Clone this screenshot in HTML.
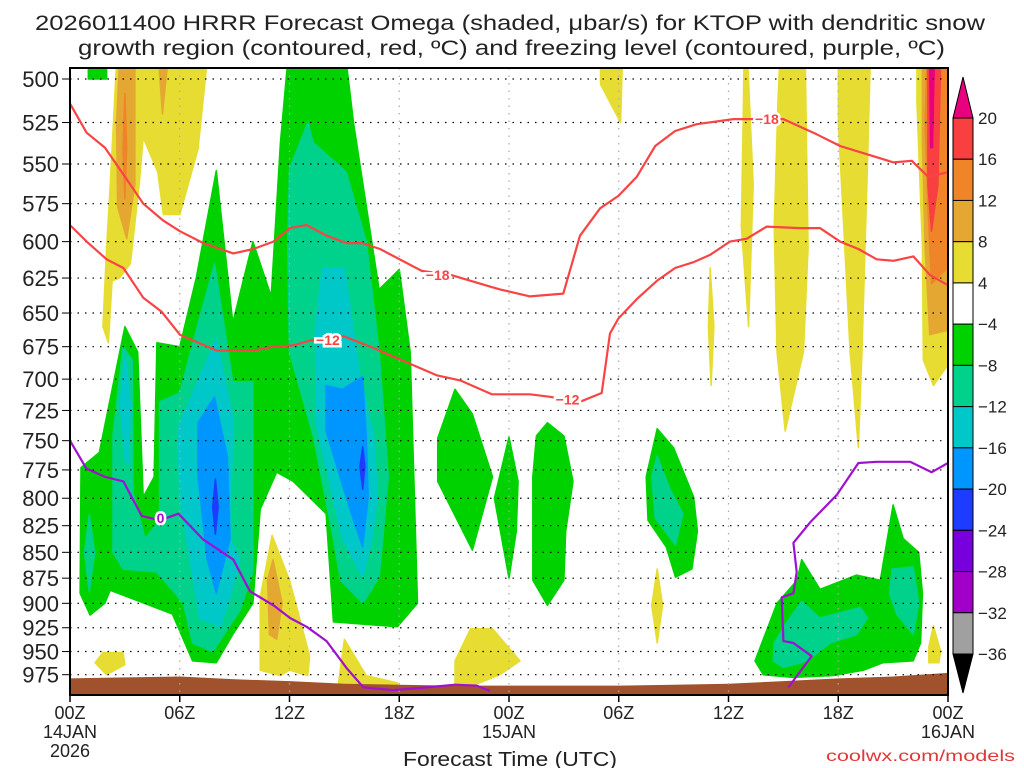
<!DOCTYPE html>
<html><head><meta charset="utf-8"><style>
html,body{margin:0;padding:0;background:#fff;}
svg{display:block;font-family:"Liberation Sans",sans-serif;}
</style></head><body>
<svg id="chart" width="1024" height="768" viewBox="0 0 1024 768" xmlns="http://www.w3.org/2000/svg">
<defs><clipPath id="plotclip"><rect x="70" y="68" width="878" height="627"/></clipPath></defs>
<text x="35" y="30" font-size="21" fill="#222" textLength="950" lengthAdjust="spacingAndGlyphs">2026011400 HRRR Forecast Omega (shaded, μbar/s) for KTOP with dendritic snow</text>
<text x="78" y="55" font-size="21" fill="#222" textLength="867" lengthAdjust="spacingAndGlyphs">growth region (contoured, red, ºC) and freezing level (contoured, purple, ºC)</text>
<g id="fills" clip-path="url(#plotclip)"></g>
<g id="grid"></g>
<g id="lines" clip-path="url(#plotclip)"></g>
<g id="axes"></g>
<g id="cbar"></g>
<text x="403" y="766" font-size="20" fill="#222" textLength="214" lengthAdjust="spacingAndGlyphs">Forecast Time (UTC)</text>
<text x="826" y="761" font-size="16" fill="#e03838" textLength="189" lengthAdjust="spacingAndGlyphs">coolwx.com/models</text>
</svg>
<script>
// ---- data (hour, pressure hPa) ----
const yTicks=[500,525,550,575,600,625,650,675,700,725,750,775,800,825,850,875,900,925,950,975];
const xTickHours=[0,6,12,18,24,30,36,42,48];
const xTickLabels=["00Z","06Z","12Z","18Z","00Z","06Z","12Z","18Z","00Z"];
const cbarLevels=[20,16,12,8,4,-4,-8,-12,-16,-20,-24,-28,-32,-36];
const cbarColors=["#f84040","#f08428","#e4a832","#e6dc32","#ffffff","#00d200","#00d28c","#00c8c8","#0096ff","#1e3cff","#7800dc","#a000c8","#a0a0a0"];
const terrainHours=[0,3,6,9,12,15,18,21,24,27,30,33,36,39,42,45,48];
const terrainPres=[979,978,977,980,982,985,986,987,987,987,987,986,985,982,979,977,973];
// -18 C contour
const iso18Hours=[0,0.91,1.91,3.01,4.01,5.1,6.01,7.29,8.93,10.02,11.12,12.03,12.94,14.03,15.13,15.95,16.95,19.23,20.87,22.96,23.51,25.15,26.97,27.88,28.98,29.98,30.98,31.99,33.08,34.26,36.27,37.18,39.0,40.82,42.1,43.56,45.02,46.02,46.93,48.0];
const iso18Pres=[514,531,540,558,575,586,593,601,608,605,600,591,589,596,601,601,605,620,623,631,633,638,636,596,578,570,558,539,530,526,523,523,523,532,539,544,549,548,558,555];
// -12 C contour
const iso12Hours=[0,1,2,2.92,4.01,5.01,6.01,8.02,10.02,11.12,12.21,13.21,14.94,16.59,18.41,20.05,21.33,23.06,25.15,26.24,27.88,29.07,29.52,29.98,30.98,32.08,33.08,34.08,34.99,36.08,37.0,38.09,39.91,41.0,42.1,43.1,44.1,45.02,46.11,47.02,48.0];
const iso12Pres=[589,601,612,618,639,649,666,678,678,675,674,670,667,676,687,697,701,712,712,714,718,711,665,654,640,627,618,614,609,600,598,590,591,591,600,605,612,613,610,623,630];
// freezing level (0 C)
const frzAHours=[0,0.91,1.91,2.92,3.92,4.92,5.93,7.29,8.93,9.84,11.12,12.03,12.94,14.03,15.13,16.04,17.68,19.5,21.05,22.23,22.96];
const frzAPres=[750,774,781,785,816,820,814,838,857,888,902,915,924,939,968,989,992,989,986,987,993];
const frzBHours=[39.27,40.55,39.55,39.0,38.91,39.55,39.73,39.55,40.46,41.92,43.1,44.1,45.93,47.11,48.0];
const frzBPres=[989,955,941,939,894,890,869,841,822,797,769,768,768,777,769];
// shaded regions: [hour, pressure]
const greenMain=[[0.55,890],[0.6,773],[1.6,760],[3.0,660],[3.7,679],[4.0,799],[4.6,781],[4.75,672],[6.0,675],[6.9,625],[8.0,554],[8.9,657],[10.0,600],[11.0,638],[11.5,537],[11.9,490],[15.1,490],[15.5,525],[16.9,633],[18.0,619],[18.6,679],[19.0,900],[17.9,924],[14.4,919],[14.0,814],[12.2,785],[11.3,777],[10.4,810],[10.0,900],[8.9,932],[8.0,962],[6.7,960],[5.6,911],[2.2,887],[1.9,900],[1.1,912]];
const greenTopLeft=[[1.0,490],[2.0,490],[2.0,500],[1.0,500]];
const greenB=[[21.05,708],[22.0,728],[23.1,781],[22.0,848],[20.1,785],[20.1,748]];
const greenC=[[24.0,747],[24.5,785],[24.4,830],[24.0,875],[23.2,800]];
const greenD=[[26.1,735],[27.0,746],[27.5,785],[27.1,830],[27.0,877],[26.1,902],[25.3,877],[25.3,781],[25.5,746]];
const greenE=[[32.1,740],[33.0,756],[34.1,799],[34.3,830],[34.0,866],[33.1,874],[32.6,845],[31.6,820],[31.5,781]];
const greenF=[[37.45,960],[38.65,900],[39.75,877],[40.0,857],[41.0,886],[43.0,872],[44.3,877],[45.0,806],[45.55,837],[46.4,850],[46.6,890],[46.5,941],[46.1,960],[44.45,962],[43.4,970],[41.7,976],[39.5,978],[37.9,975]];
const tealA=[[2.9,675],[3.4,685],[3.45,795],[4.1,837],[4.9,820],[4.9,718],[6.0,711],[6.9,663],[7.9,615],[8.9,702],[10,702],[10,869],[9.3,907],[7.8,950],[6.7,941],[6.2,900],[4.75,869],[2.9,866],[2.35,850],[2.35,746]];
const tealB=[[1.05,815],[1.35,850],[1.05,888],[0.8,850]];
const tealC=[[12.0,553],[13.0,525],[13.3,537],[15.1,555],[16.2,600],[16.9,679],[17.4,781],[17.1,837],[16.9,874],[16.0,900],[14.8,877],[14.4,837],[13.3,746],[12.0,679],[11.9,604]];
const tealD=[[32.1,763],[32.8,792],[33.5,814],[33.1,843],[32.0,818],[31.8,781]];
const tealE=[[38.5,941],[39.2,919],[40.0,898],[41.0,915],[43.2,904],[43.6,915],[43.0,932],[41.55,941],[40.3,960],[39.0,967],[38.45,960]];
const tealF=[[44.95,866],[46.1,864],[46.4,900],[46.1,932],[45.2,911],[44.8,890]];
const cyanA=[[3.0,680],[3.3,720],[3.2,770],[3.0,765],[2.75,720]];
const cyanB=[[8.0,669],[8.9,731],[8.75,837],[9.3,857],[8.75,894],[8.2,924],[7.1,915],[6.0,799],[5.9,739],[6.9,705]];
const cyanC=[[13.8,618],[15.0,618],[15.9,702],[16.6,746],[16.8,799],[16.5,837],[16.0,874],[14.9,837],[13.5,739],[13.4,663]];
const lblueA=[[7.0,735],[7.9,714],[8.6,763],[8.75,837],[8.0,890],[7.5,857],[7.0,781]];
const lblueB=[[14.0,705],[14.9,708],[16.0,698],[16.2,746],[16.3,799],[16.0,845],[15.3,810],[14.0,742]];
const blueA=[[7.95,783],[8.1,808],[7.95,833],[7.8,808]];
const blueB=[[16.0,755],[16.12,772],[16.0,792],[15.85,772]];
const yelA=[[2.55,490],[7.5,490],[7.0,541],[6.0,582],[5.1,582],[4.8,555],[4.0,534],[3.8,561],[3.3,615],[2.7,625],[2.3,627],[2.1,672],[1.8,660],[2.0,604],[2.2,563]];
const yelB=[[1.37,962],[1.8,951],[2.9,951],[3.0,964],[2.0,975]];
const yelC=[[11.05,834],[12.0,877],[12.5,911],[13.1,955],[13.0,976],[12.0,970],[11.5,976],[10.4,970],[10.4,894]];
const yelD=[[15.0,937],[16.2,976],[17.9,984],[18,995],[14.6,995]];
const yelE=[[21.05,960],[21.9,926],[23.1,926],[24.6,960],[23.5,975],[21.05,995]];
const yelF=[[29.0,490],[30.2,490],[30.1,525],[29.0,503]];
const yelG=[[35.0,618],[35.2,660],[35.05,705],[34.9,660]];
const yelH=[[36.85,490],[37.05,490],[37.35,563],[37.1,660],[36.7,590],[36.8,525]];
const yelI=[[38.8,490],[40.2,490],[40.35,604],[40.1,679],[39.1,742],[38.65,679],[38.5,590],[38.7,513]];
const yelJ=[[42.0,490],[43.75,490],[43.6,550],[43.3,679],[43.1,756],[42.65,679],[42.3,590],[42.0,525]];
const yelK=[[46.3,490],[48.2,490],[48.2,685],[47.2,705],[46.65,685],[46.6,604],[46.3,513]];
const yelL=[[32.1,866],[32.4,902],[32.1,941],[31.8,902]];
const yelM=[[47.2,923],[47.6,950],[47.5,962],[46.95,962],[46.95,945]];
const ochA=[[2.7,490],[3.55,490],[3.55,563],[3.1,598],[2.6,577],[2.55,525]];
const ochB=[[4.85,490],[5.35,490],[5.05,520]];
const ochC=[[11.1,857],[11.6,900],[11.3,937],[10.9,932],[10.8,877]];
const ochD=[[46.6,490],[48.2,490],[48.2,662],[47.0,666],[46.75,604],[46.6,537]];
const orA=[[3.0,508],[3.1,540],[3.0,572],[2.9,540]];
const orB=[[46.85,490],[48.2,490],[48.2,615],[47.1,629],[46.9,577],[46.75,525]];
const redA=[[46.9,490],[47.6,490],[47.45,563],[47.1,593],[46.9,563]];
const magA=[[47.0,490],[47.25,490],[47.15,540],[47.05,540]];

// ---- axis functions ----
const X=h=>70+h*(878/48);
const Y=p=>79+892*Math.log(p/500);
const NS="http://www.w3.org/2000/svg";
function mk(tag,parent){const e=document.createElementNS(NS,tag);parent.appendChild(e);return e;}
const fills=document.getElementById('fills');
function poly(pts,color,name){
  const e=mk('polygon',fills);
  e.setAttribute('points',pts.map(q=>X(q[0]).toFixed(1)+','+Y(q[1]).toFixed(1)).join(' '));
  e.setAttribute('fill',color);
  e.setAttribute('stroke',color);e.setAttribute('stroke-width','1.5');e.setAttribute('stroke-linejoin','round');
  
  
}
const YEL="#e6dc32",OCH="#e4a832",ORG="#f08428",RED="#f84040",MAG="#e8007e";
const GRN="#00d200",TEAL="#00d28c",CYAN="#00c8c8",LBLU="#0096ff",BLU="#1e3cff";
[yelA,yelB,yelC,yelD,yelE,yelF,yelG,yelH,yelI,yelJ,yelK,yelL,yelM].forEach(s=>poly(s,YEL,'rising-motion-4-8'));
[ochA,ochB,ochC,ochD].forEach(s=>poly(s,OCH,'rising-motion-8-12'));
[orA,orB].forEach(s=>poly(s,ORG,'rising-motion-12-16'));
[redA].forEach(s=>poly(s,RED,'rising-motion-16-20'));
[magA].forEach(s=>poly(s,MAG,'rising-motion-over-20'));
[greenMain,greenTopLeft,greenB,greenC,greenD,greenE,greenF].forEach(s=>poly(s,GRN,'omega-minus-4-8'));
[tealA,tealB,tealC,tealD,tealE,tealF].forEach(s=>poly(s,TEAL,'omega-minus-8-12'));
[cyanA,cyanB,cyanC].forEach(s=>poly(s,CYAN,'omega-minus-12-16'));
[lblueA,lblueB].forEach(s=>poly(s,LBLU,'omega-minus-16-20'));
[blueA,blueB].forEach(s=>poly(s,BLU,'omega-minus-20-24'));
// terrain
{
  const pts=terrainHours.map((h,i)=>X(h).toFixed(1)+','+Y(terrainPres[i]).toFixed(1));
  pts.push(X(48)+',700',X(0)+',700');
  const e=mk('polygon',fills);
  e.setAttribute('points',pts.join(' '));e.setAttribute('fill','#a0522d');
  
  
}
// grid
const grid=document.getElementById('grid');
yTicks.forEach(p=>{
  const l=mk('line',grid);
  l.setAttribute('x1',70);l.setAttribute('x2',948);l.setAttribute('y1',Y(p));l.setAttribute('y2',Y(p));
  l.setAttribute('stroke','#000');l.setAttribute('stroke-width','1.2');l.setAttribute('stroke-dasharray','1.5 6');
  
  
});
xTickHours.slice(1,-1).forEach(h=>{
  const l=mk('line',grid);
  l.setAttribute('x1',X(h));l.setAttribute('x2',X(h));l.setAttribute('y1',68);l.setAttribute('y2',695);
  l.setAttribute('stroke','#aaa');l.setAttribute('stroke-width','1.2');l.setAttribute('stroke-dasharray','1.5 6');
  
  
});
// contour lines
const lines=document.getElementById('lines');
function pline(hs,ps,color,name){
  const e=mk('polyline',lines);
  e.setAttribute('points',hs.map((h,i)=>X(h).toFixed(1)+','+Y(ps[i]).toFixed(1)).join(' '));
  e.setAttribute('fill','none');e.setAttribute('stroke',color);e.setAttribute('stroke-width','2.2');e.setAttribute('stroke-linejoin','round');
  
  
}
function lbl(h,p,txt,color,name){
  const t=mk('text',lines);
  t.setAttribute('x',X(h));t.setAttribute('y',Y(p)+5);t.setAttribute('text-anchor','middle');
  t.setAttribute('font-size','14');t.setAttribute('font-weight','bold');t.setAttribute('fill',color);
  t.setAttribute('stroke','#fff');t.setAttribute('stroke-width','5');t.setAttribute('paint-order','stroke');
  t.textContent=txt;
  
  
}
const LRED="#f84444",PUR="#a010d0";
pline(iso18Hours,iso18Pres,LRED,'minus18-isotherm');
pline(iso12Hours,iso12Pres,LRED,'minus12-isotherm');
pline(frzAHours,frzAPres,PUR,'freezing-level-line');
pline(frzBHours,frzBPres,PUR,'freezing-level-line-2');
lbl(20.1,623,'−18',LRED,'minus18-label');
lbl(38.1,523,'−18',LRED,'minus18-label-2');
lbl(14.1,670,'−12',LRED,'minus12-label');
lbl(27.2,716,'−12',LRED,'minus12-label-2');
lbl(4.95,818,'0',PUR,'freezing-level-label');
// axes
const axes=document.getElementById('axes');
{
  const r=mk('rect',axes);
  r.setAttribute('x',70);r.setAttribute('y',68);r.setAttribute('width',878);r.setAttribute('height',627);
  r.setAttribute('fill','none');r.setAttribute('stroke','#000');r.setAttribute('stroke-width','2');
  
  
}
yTicks.forEach(p=>{
  const t=mk('text',axes);
  t.setAttribute('x',59);t.setAttribute('y',Y(p)+8);t.setAttribute('text-anchor','end');t.setAttribute('font-size','22');t.setAttribute('fill','#222');
  t.textContent=p;
  
  
  const k=mk('line',axes);
  k.setAttribute('x1',62);k.setAttribute('x2',70);k.setAttribute('y1',Y(p));k.setAttribute('y2',Y(p));k.setAttribute('stroke','#000');
  
  
});
const subLabels={0:["14JAN","2026"],24:["15JAN"],48:["16JAN"]};
xTickHours.forEach((h,i)=>{
  const k=mk('line',axes);
  k.setAttribute('x1',X(h));k.setAttribute('x2',X(h));k.setAttribute('y1',695);k.setAttribute('y2',702);k.setAttribute('stroke','#000');k.setAttribute('stroke-width','1.5');
  
  
  const lines2=[xTickLabels[i]].concat(subLabels[h]||[]);
  lines2.forEach((s,j)=>{
    const t=mk('text',axes);
    t.setAttribute('x',X(h));t.setAttribute('y',719+j*19);t.setAttribute('text-anchor','middle');t.setAttribute('font-size','18');t.setAttribute('fill','#222');
    t.textContent=s;
    
    
  });
});
// colorbar
const cb=document.getElementById('cbar');
const CB_X=953,CB_W=20,CB_TOP=118,CB_STEP=(654-118)/13;
cbarColors.forEach((c,i)=>{
  const r=mk('rect',cb);
  r.setAttribute('x',CB_X);r.setAttribute('y',CB_TOP+i*CB_STEP);r.setAttribute('width',CB_W);r.setAttribute('height',CB_STEP);
  r.setAttribute('fill',c);r.setAttribute('stroke','#000');r.setAttribute('stroke-width','1');
  
  
});
{
  const a=mk('polygon',cb);
  a.setAttribute('points',`${CB_X},${CB_TOP} ${CB_X+CB_W/2},77 ${CB_X+CB_W},${CB_TOP}`);
  a.setAttribute('fill','#e8007e');a.setAttribute('stroke','#000');
  
  
  const b=mk('polygon',cb);
  const bt=CB_TOP+13*CB_STEP;
  b.setAttribute('points',`${CB_X},${bt} ${CB_X+CB_W/2},693 ${CB_X+CB_W},${bt}`);
  b.setAttribute('fill','#000');b.setAttribute('stroke','#000');
  
  
}
cbarLevels.forEach((v,i)=>{
  const t=mk('text',cb);
  t.setAttribute('x',978);t.setAttribute('y',CB_TOP+i*CB_STEP+6);t.setAttribute('font-size','17');t.setAttribute('fill','#222');
  t.textContent=v<0?'−'+Math.abs(v):String(v);
  
  
});
</script>
</body></html>
